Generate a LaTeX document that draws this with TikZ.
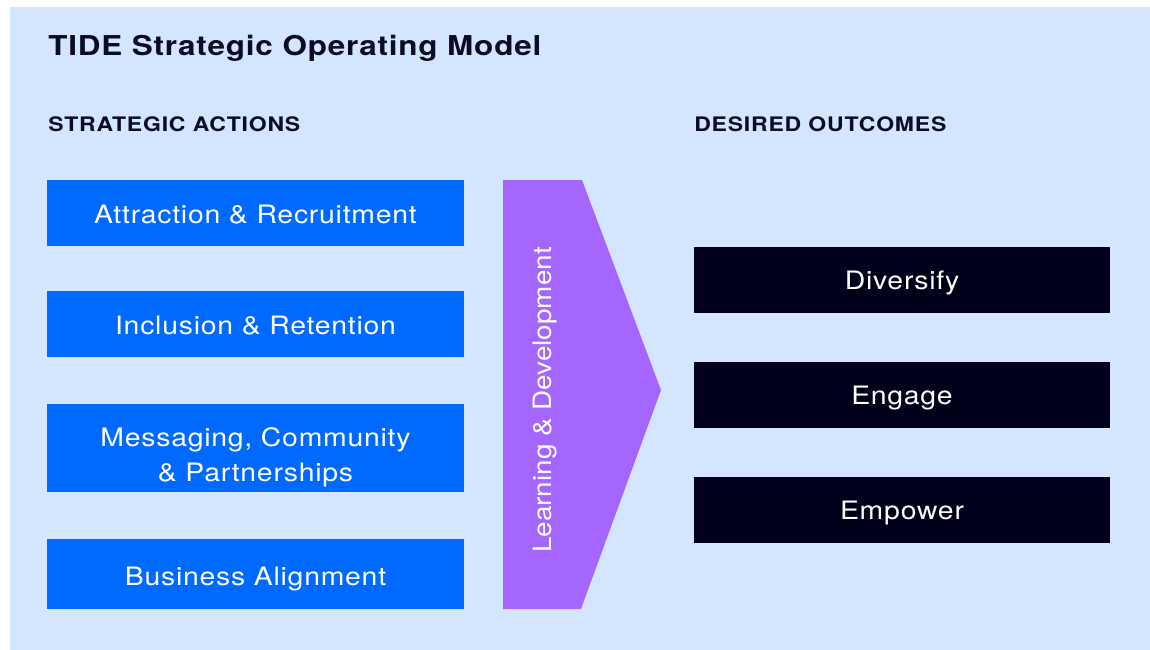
\documentclass[tikz,border=0pt]{standalone}
\usepackage{fontspec}
\setmainfont{TeX Gyre Heros}
\newfontfamily\titlefont[FakeStretch=1.15,LetterSpace=3]{TeX Gyre Heros}
\newfontfamily\headfont[FakeStretch=1.15,LetterSpace=4]{TeX Gyre Heros}
\newfontfamily\boxfont[FakeStretch=1.12,LetterSpace=3]{TeX Gyre Heros}
\newfontfamily\ldfont[FakeStretch=1.1]{TeX Gyre Heros}
\definecolor{bgblue}{HTML}{D3E6FD}
\definecolor{actblue}{HTML}{0069FF}
\definecolor{ldpurple}{HTML}{A566FF}
\definecolor{outblack}{HTML}{00001A}
\definecolor{inkdark}{HTML}{0B0B22}
\tikzset{
  px/.style={x=0.75pt,y=-0.75pt},
  actbox/.style={fill=actblue,text=white,minimum width=312.75pt,inner sep=0pt,
    font=\boxfont\fontsize{19}{26.25}\selectfont,text height=15.6pt,text depth=0pt},
  outbox/.style={fill=outblack,text=white,minimum width=312pt,minimum height=49.5pt,inner sep=0pt,
    font=\boxfont\fontsize{19}{26.25}\selectfont,text height=13.64pt,text depth=0pt},
  heading/.style={anchor=base west,inner sep=0pt,text=inkdark,font=\headfont\bfseries\fontsize{15}{18}\selectfont},
}
\begin{document}
\begin{tikzpicture}[px]
\useasboundingbox (0,0) rectangle (1150,650);
\fill[white] (0,0) rectangle (1150,650);
\fill[bgblue] (10,7) rectangle (1150,650);
\node[anchor=base west,inner sep=0pt,text=inkdark,font=\titlefont\bfseries\fontsize{20.5}{24}\selectfont] (title) at (48,55) {TIDE Strategic Operating Model};
\node[heading] (acthead) at (48,131) {STRATEGIC ACTIONS};
\node[heading] (outhead) at (694,131) {DESIRED OUTCOMES};
% strategic actions
\node[actbox,minimum height=49.5pt] (attr) at (255.5,213) {Attraction \& Recruitment};
\node[actbox,minimum height=49.5pt] (incl) at (255.5,324) {Inclusion \& Retention};
\node[actbox,minimum height=66pt,text height=49.9pt] (mess) at (255.5,448.3)
  {\begin{tabular}[b]{@{}c@{}}Messaging, Community\\\& Partnerships\end{tabular}};
\node[actbox,minimum height=52.5pt,text height=16.6pt] (busi) at (255.5,574) {Business Alignment};
% learning & development arrow
\fill[ldpurple] (503,180) -- (582,180) -- (661,390) -- (581,609) -- (503,609) -- cycle;
\node[rotate=90,text=white,inner sep=0pt,font=\ldfont\fontsize{19}{23}\selectfont,
  text height=13.64pt,text depth=0pt] (ld) at (542.5,400) {Learning \& Development};
% desired outcomes
\node[outbox] (div) at (902,280) {Diversify};
\node[outbox] (eng) at (902,395) {Engage};
\node[outbox] (emp) at (902,510) {Empower};
\end{tikzpicture}
\end{document}
